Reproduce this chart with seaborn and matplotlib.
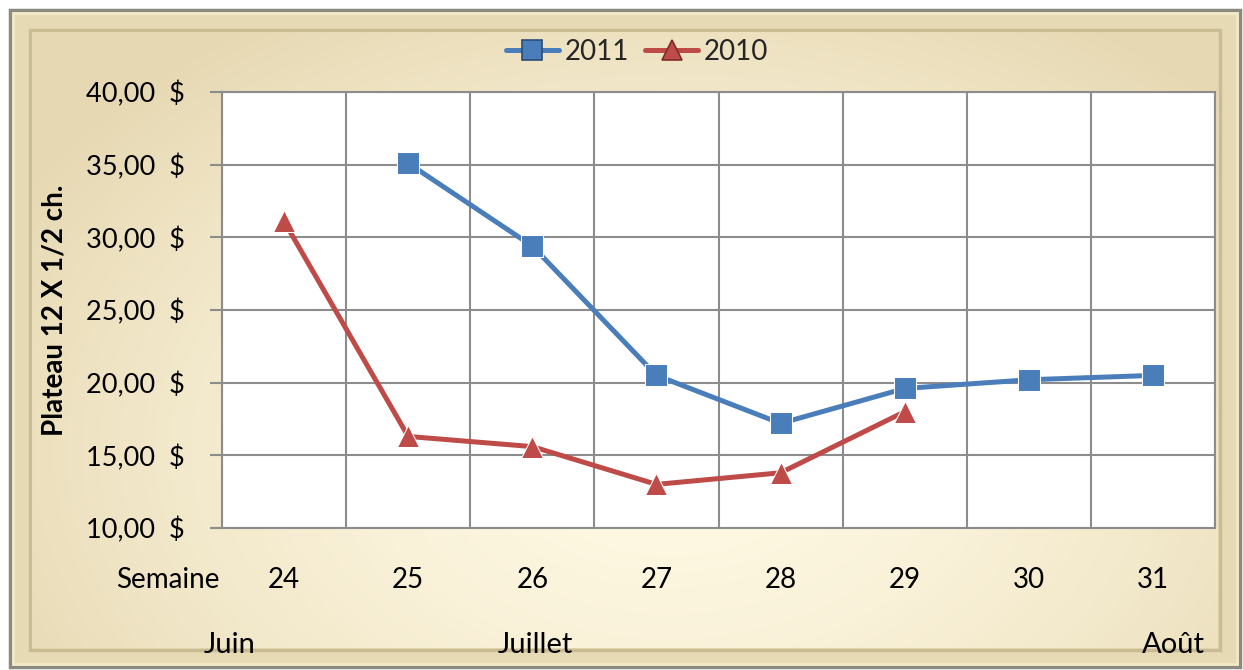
import numpy as np
import pandas as pd
import seaborn as sns
import matplotlib
matplotlib.use("Agg")
import matplotlib.pyplot as plt
from matplotlib.patches import Rectangle

# ---- data ----
weeks = [24, 25, 26, 27, 28, 29, 30, 31]
week_labels = ["24", "25", "26", "27", "28", "29", "30", "31"]
prix_2011 = [np.nan, 35.1, 29.4, 20.5, 17.2, 19.6, 20.2, 20.5]
prix_2010 = [31.1, 16.3, 15.6, 13.0, 13.8, 18.0, np.nan, np.nan]
series = ["2011", "2010"]
y_ticks = [10, 15, 20, 25, 30, 35, 40]
y_tick_labels = ["10,00  $", "15,00  $", "20,00  $", "25,00  $", "30,00  $", "35,00  $", "40,00  $"]
months = ["Juin", "Juillet", "Août"]
y_label = "Plateau 12 X 1/2 ch."
x_label = "Semaine"

df = pd.DataFrame({
    "Semaine": weeks * 2,
    "Prix": prix_2011 + prix_2010,
    "Année": [series[0]] * len(weeks) + [series[1]] * len(weeks),
}).dropna()

sns.set_theme(style="white")
plt.rcParams["font.family"] = ["Lato", "DejaVu Sans"]

W, H = 1243, 670
fig = plt.figure(figsize=(W / 100, H / 100), dpi=100)
fig.patch.set_facecolor("white")

# ---- background frame ----
bg = fig.add_axes([0, 0, 1, 1], zorder=0)
bg.set_xlim(0, W)
bg.set_ylim(H, 0)
bg.axis("off")

bg.add_patch(Rectangle((10, 10), 1230, 657, facecolor="#ddd0a8", edgecolor="#8a8a80", lw=2.5))
bg.add_patch(Rectangle((13, 13), 1224, 651, facecolor="#e6dab4", edgecolor="#f2e9c8", lw=2))
bg.add_patch(Rectangle((30, 30), 1190, 620, facecolor="none", edgecolor="#c9bb92", lw=2.5))

yy, xx = np.mgrid[0:620, 0:1190]
d = np.sqrt(((xx - 640) / 760.0) ** 2 + ((yy - 420) / 520.0) ** 2)
t = np.clip(d, 0, 1) ** 1.6
c0 = np.array([0xFF, 0xF9, 0xE4]) / 255.0
c1 = np.array([0xE6, 0xD8, 0xB2]) / 255.0
img = c0[None, None, :] * (1 - t[..., None]) + c1[None, None, :] * t[..., None]
bg.imshow(img, extent=(32, 1218, 648, 32), aspect="auto", zorder=1)

# ---- main axes ----
L, R, T, B = 222, 1215, 92, 528
ax = fig.add_axes([L / W, 1 - B / H, (R - L) / W, (B - T) / H], zorder=2)
ax.set_facecolor("white")

colors = {"2011": "#4a7ebb", "2010": "#be4b48"}
edges = {"2011": "#2c4d75", "2010": "#7d2e2c"}
sns.lineplot(data=df, x="Semaine", y="Prix", hue="Année", style="Année",
             hue_order=series, style_order=series,
             palette=colors, markers={"2011": "s", "2010": "^"}, dashes=False,
             linewidth=3.6, markersize=15.5, ax=ax, legend=True, zorder=5)

for line in ax.lines:
    lab = line.get_label()
    if lab in edges:
        line.set_markeredgecolor(edges[lab])
        line.set_markeredgewidth(1.2)

handles, labels = ax.get_legend_handles_labels()
for h, lab in zip(handles, labels):
    if lab in edges:
        h.set_markeredgecolor(edges[lab])
        h.set_markersize(15)
        h.set_linewidth(3.6)
ax.get_legend().remove()
fig.legend(handles, labels, loc="center", bbox_to_anchor=(637 / W, 1 - 52 / H),
           ncol=2, frameon=False, fontsize=20, handlelength=1.9,
           columnspacing=0.6, handletextpad=0.2)

ax.set_xlim(23.5, 31.5)
ax.set_ylim(10, 40)
ax.set_xticks(weeks)
ax.set_xticklabels(week_labels, fontsize=20, color="black")
ax.set_xticks(np.arange(23.5, 32, 1.0), minor=True)
ax.set_yticks(y_ticks)
ax.set_yticklabels(y_tick_labels, fontsize=19.5, color="black")
ax.tick_params(axis="x", which="major", length=0, pad=28)
ax.tick_params(axis="x", which="minor", length=9, width=1.5, color="#8c8c8c", direction="out")
ax.tick_params(axis="y", which="major", length=9, width=1.5, color="#8c8c8c", direction="out", pad=18, left=True)
ax.grid(False)
ax.grid(True, axis="x", which="minor", color="#8c8c8c", lw=1.5)
ax.grid(True, axis="y", which="major", color="#8c8c8c", lw=1.5)
ax.set_axisbelow(True)
for s in ax.spines.values():
    s.set_visible(True)
    s.set_color("#8c8c8c")
    s.set_linewidth(1.5)
ax.set_xlabel("")
ax.set_ylabel("")

fig.text(55 / W, 1 - 310 / H, y_label, rotation=90, ha="center", va="center",
         fontsize=20, fontweight="bold", color="black")
fig.text(168 / W, 1 - 580 / H, x_label, ha="center", va="center", fontsize=20, color="black")
for m, xm in zip(months, [230, 535, 1173]):
    fig.text(xm / W, 1 - 645 / H, m, ha="center", va="center", fontsize=21, color="black")

fig.savefig("out.png", dpi=100)
